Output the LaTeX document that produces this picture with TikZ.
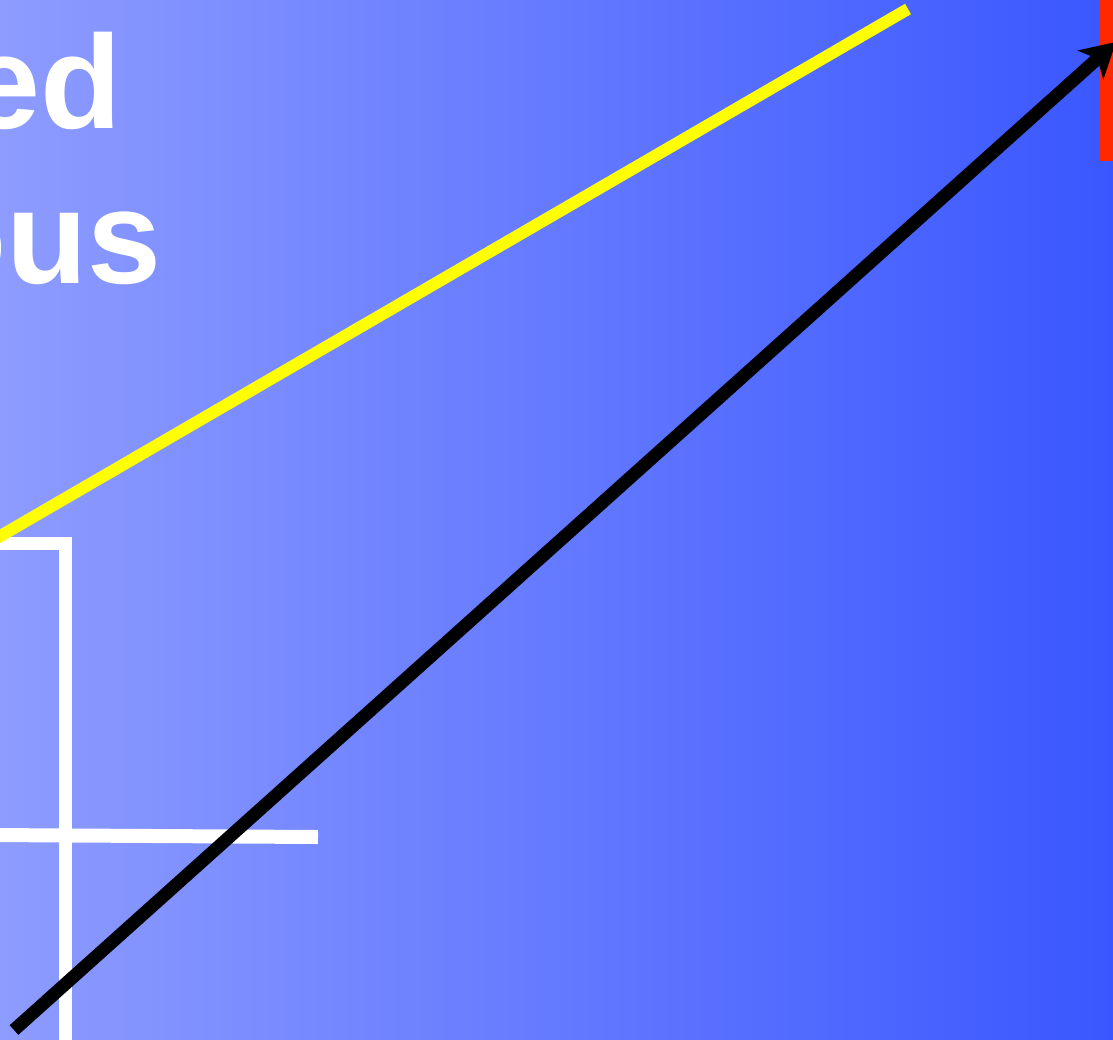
\documentclass[tikz,border=0pt]{standalone}
\usepackage{fontspec}
\setmainfont{Liberation Sans}
\usetikzlibrary{arrows.meta}
\definecolor{bgleft}{RGB}{142,156,255}
\definecolor{bgright}{RGB}{58,87,255}
\definecolor{redbar}{RGB}{255,40,0}
\definecolor{yel}{RGB}{255,255,0}
\tikzset{
  titletext/.style={text=white, font=\fontsize{133}{133}\selectfont\bfseries, inner sep=0pt, anchor=base east},
  whiteline/.style={draw=white, line width=13pt},
  yelline/.style={draw=yel, line width=12pt},
  blackarrow/.style={draw=black, line width=13pt, -{Stealth[length=34pt,width=38pt,inset=9pt]}}
}
\begin{document}
\begin{tikzpicture}[x=1pt,y=-1pt]
\useasboundingbox (0,0) rectangle (1113,1039);
\clip (0,0) rectangle (1113,1039);
\shade[left color=bgleft,right color=bgright] (0,0) rectangle (1113,1039);
% red bar
\fill[redbar] (1100,-5) rectangle (1120,161);
% title text fragments
\node[titletext] (t1) at (122,128) {ed};
\node[titletext] (t2) at (162,283) {ous};
% white lines
\coordinate (w1) at (-10,543);
\coordinate (w2) at (65.5,543);
\coordinate (w3) at (65.5,1050);
\draw[whiteline, line join=miter] (w1) -- (w2) -- (w3);
\coordinate (h1) at (-10,835);
\coordinate (h2) at (318,837);
\draw[whiteline, line width=14pt] (h1) -- (h2);
% yellow line
\coordinate (y1) at (-10,542);
\coordinate (y2) at (908,9);
\draw[yelline] (y1) -- (y2);
% black arrow
\coordinate (a1) at (14,1030);
\coordinate (a2) at (1116,42);
\draw[blackarrow] (a1) -- (a2);
\end{tikzpicture}
\end{document}
